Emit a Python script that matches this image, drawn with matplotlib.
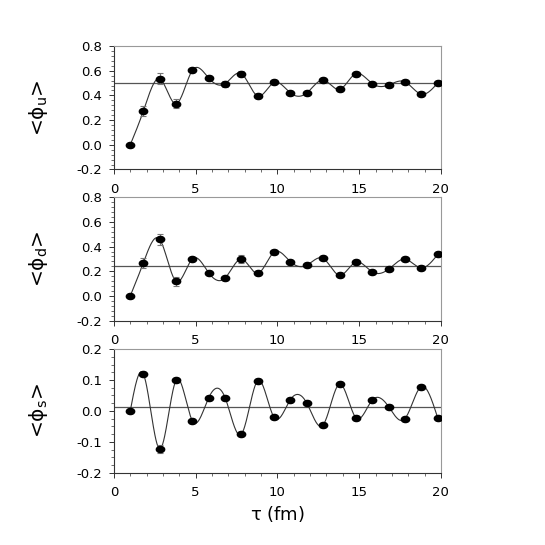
import numpy as np
import matplotlib
matplotlib.use("Agg")
import matplotlib.pyplot as plt
from matplotlib.path import Path
from matplotlib.transforms import Affine2D
from matplotlib.ticker import MultipleLocator

plt.rcParams['font.family'] = ['DejaVu Sans']
plt.rcParams['axes.unicode_minus'] = False
plt.rcParams['mathtext.fontset'] = 'custom'
plt.rcParams['mathtext.rm'] = 'DejaVu Sans'
plt.rcParams['mathtext.it'] = 'DejaVu Sans'
plt.rcParams['mathtext.bf'] = 'DejaVu Sans:bold'

# time steps (markers sit just left of the integer ticks, first at 1)
tau = [1.0, 1.8, 2.8, 3.8, 4.8, 5.8, 6.8, 7.8, 8.8, 9.8,
       10.8, 11.8, 12.8, 13.8, 14.8, 15.8, 16.8, 17.8, 18.8, 19.8]

phi_u = [0.0, 0.273, 0.535, 0.332, 0.603, 0.54, 0.495, 0.576, 0.395, 0.505,
         0.419, 0.42, 0.524, 0.449, 0.576, 0.495, 0.484, 0.51, 0.41, 0.50]
err_u = [0.0, 0.04, 0.045, 0.035, 0.01, 0.01, 0.025, 0.02, 0.01, 0.01,
         0.01, 0.01, 0.01, 0.01, 0.01, 0.01, 0.01, 0.01, 0.01, 0.01]
avg_u = 0.503

phi_d = [0.0, 0.268, 0.458, 0.119, 0.301, 0.187, 0.146, 0.298, 0.184, 0.355,
         0.277, 0.249, 0.304, 0.168, 0.274, 0.195, 0.217, 0.298, 0.228, 0.336]
err_d = [0.0, 0.04, 0.045, 0.035, 0.01, 0.01, 0.01, 0.03, 0.01, 0.015,
         0.01, 0.01, 0.01, 0.01, 0.01, 0.01, 0.01, 0.01, 0.01, 0.01]
avg_d = 0.241

phi_s = [0.0, 0.12, -0.123, 0.099, -0.032, 0.043, 0.043, -0.075, 0.098, -0.021,
         0.037, 0.025, -0.045, 0.087, -0.022, 0.035, 0.014, -0.025, 0.079, -0.022]
err_s = [0.0, 0.006, 0.012, 0.006, 0.006, 0.006, 0.006, 0.006, 0.006, 0.006,
         0.006, 0.006, 0.006, 0.006, 0.006, 0.006, 0.006, 0.006, 0.006, 0.006]
avg_s = 0.012


def natural_spline(x, y, num=600):
    # plain natural cubic spline through the points
    x = np.asarray(x, float)
    y = np.asarray(y, float)
    n = len(x)
    h = np.diff(x)
    A = np.zeros((n, n))
    b = np.zeros(n)
    A[0, 0] = 1.0
    A[-1, -1] = 1.0
    for i in range(1, n - 1):
        A[i, i - 1] = h[i - 1]
        A[i, i] = 2 * (h[i - 1] + h[i])
        A[i, i + 1] = h[i]
        b[i] = 6 * ((y[i + 1] - y[i]) / h[i] - (y[i] - y[i - 1]) / h[i - 1])
    M = np.linalg.solve(A, b)
    xs = np.linspace(x[0], x[-1], num)
    k = np.clip(np.searchsorted(x, xs) - 1, 0, n - 2)
    t1 = x[k + 1] - xs
    t0 = xs - x[k]
    hk = h[k]
    ys = (M[k] * t1**3 / (6 * hk) + M[k + 1] * t0**3 / (6 * hk)
          + (y[k] / hk - M[k] * hk / 6) * t1
          + (y[k + 1] / hk - M[k + 1] * hk / 6) * t0)
    return xs, ys


# slightly flattened filled dot
dot = Path.unit_circle().transformed(Affine2D().scale(1.35, 1.0))

fig = plt.figure(figsize=(5.45, 5.45), dpi=100)
W = 0.600
H = 0.2266
L = 0.209
bottoms = [0.689, 0.4116, 0.1327]

panels = [
    (phi_u, err_u, avg_u, r'<$\phi_u$>', (-0.2, 0.8), 0.2, 0.04),
    (phi_d, err_d, avg_d, r'<$\phi_d$>', (-0.2, 0.8), 0.2, 0.04),
    (phi_s, err_s, avg_s, r'<$\phi_s$>', (-0.2, 0.2), 0.1, 0.025),
]

for (vals, errs, avg, lab, ylim, major, minor), bot in zip(panels, bottoms):
    ax = fig.add_axes([L, bot, W, H])
    xs, ys = natural_spline(tau, vals)
    ax.axhline(avg, color='#555555', lw=0.9, zorder=1)
    ax.plot(xs, ys, color='#333333', lw=0.8, zorder=2)
    ax.errorbar(tau, vals, yerr=errs, fmt='none', ecolor='#777777',
                elinewidth=0.8, capsize=2.5, capthick=0.8, zorder=2)
    ax.plot(tau, vals, linestyle='none', marker=dot, markersize=6.0,
            color='black', zorder=3)

    ax.set_xlim(0, 20)
    ax.set_ylim(*ylim)
    ax.xaxis.set_major_locator(MultipleLocator(5))
    ax.xaxis.set_minor_locator(MultipleLocator(1))
    ax.yaxis.set_major_locator(MultipleLocator(major))
    ax.yaxis.set_minor_locator(MultipleLocator(minor))
    ax.set_yticklabels(['%.1f' % v for v in ax.get_yticks()])
    ax.set_ylim(*ylim)

    ax.tick_params(which='major', direction='out', length=3.5, width=0.7,
                   color='#333333', labelsize=9.5, pad=5)
    ax.tick_params(which='minor', direction='out', length=2.5, width=0.6,
                   color='#555555')
    ax.tick_params(axis='x', pad=6)
    for side in ['top', 'right']:
        ax.spines[side].set_color('#999999')
        ax.spines[side].set_linewidth(0.8)
    for side in ['left', 'bottom']:
        ax.spines[side].set_color('#333333')
        ax.spines[side].set_linewidth(0.8)

    ax.set_ylabel(lab, fontsize=14.5)
    ax.yaxis.set_label_coords(-0.195, 0.5)

ax.set_xlabel(r'$\tau$ (fm)', fontsize=13, labelpad=4)

fig.savefig('out.png', dpi=100)
